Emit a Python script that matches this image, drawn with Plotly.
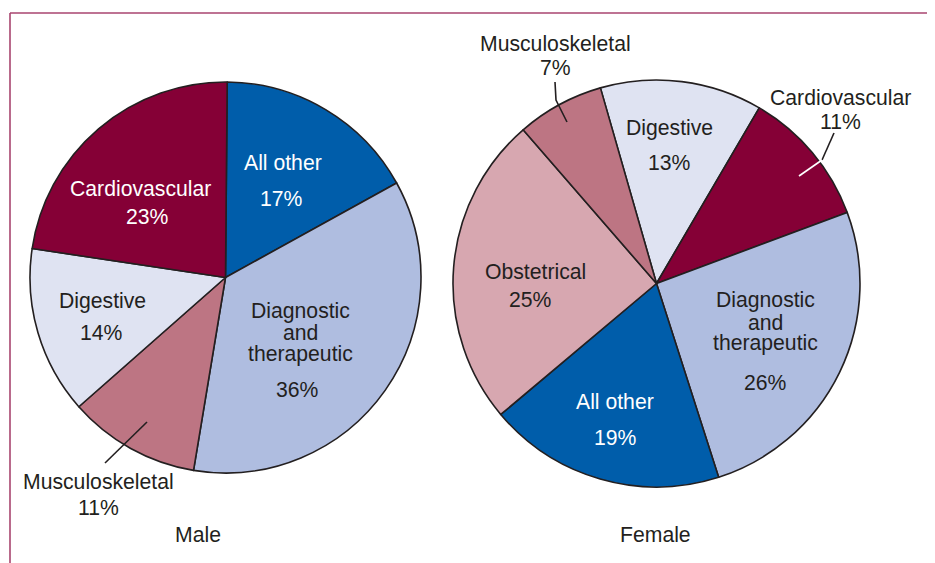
import plotly.graph_objects as go

# page body has an 8px margin, so the figure is drawn offset by 8px
OFF = 8
W, H = 935 - OFF, 563 - OFF

# ---------------- data ----------------
male_labels = ["All other", "Diagnostic and therapeutic", "Musculoskeletal", "Digestive", "Cardiovascular"]
male_values = [17, 36, 11, 14, 23]

female_labels = ["Digestive", "Cardiovascular", "Diagnostic and therapeutic", "All other", "Obstetrical", "Musculoskeletal"]
female_values = [13, 11, 26, 19, 25, 7]

panel_titles = ["Male", "Female"]

colors = {
    "Cardiovascular": "#850036",
    "All other": "#005DAA",
    "Diagnostic and therapeutic": "#AFBDE0",
    "Digestive": "#DFE3F2",
    "Musculoskeletal": "#BD7583",
    "Obstetrical": "#D7A7B0",
}
text_colors = {
    "Cardiovascular": "white",
    "All other": "white",
}
DARK = "#231F20"
FONT = "Liberation Sans, Arial, Helvetica, sans-serif"
FS = 21.2


def px(x):
    return (x - OFF) / W


def py(y):
    return 1 - (y - OFF) / H


def dom(cx, cy, r):
    return dict(x=[px(cx - r), px(cx + r)], y=[py(cy + r), py(cy - r)])


fig = go.Figure()
fig.add_trace(go.Pie(
    labels=male_labels, values=male_values, sort=False, direction="clockwise",
    rotation=0.5, textinfo="none", hoverinfo="label+value",
    marker=dict(colors=[colors[l] for l in male_labels], line=dict(color=DARK, width=1.6)),
    domain=dom(225.5, 277.5, 195.5), showlegend=False,
))
fig.add_trace(go.Pie(
    labels=female_labels, values=female_values, sort=False, direction="clockwise",
    rotation=-16, textinfo="none", hoverinfo="label+value",
    marker=dict(colors=[colors[l] for l in female_labels], line=dict(color=DARK, width=1.6)),
    domain=dom(656.5, 283.5, 203.5), showlegend=False,
))

annotations = []


def add_text(txt, x, y, color=DARK):
    annotations.append(dict(
        text=txt, x=px(x), y=py(y), xref="paper", yref="paper",
        xanchor="center", yanchor="middle", showarrow=False,
        font=dict(family=FONT, size=FS, color=color),
    ))


# label layout (pixel centres) for each category: name lines and percent
male_pos = {
    "All other": ([(283, 162)], (281, 198)),
    "Cardiovascular": ([(140, 188)], (147, 217)),
    "Diagnostic and therapeutic": ([(300, 311), (300, 332), (300, 354)], (297, 389)),
    "Digestive": ([(102, 301)], (101, 332)),
    "Musculoskeletal": ([(98, 481)], (98, 507)),
}
female_pos = {
    "Musculoskeletal": ([(555, 43)], (555, 67)),
    "Digestive": ([(669, 128)], (669, 162)),
    "Cardiovascular": ([(840, 97)], (840, 121)),
    "Obstetrical": ([(535, 271)], (530, 299)),
    "Diagnostic and therapeutic": ([(765, 300), (765, 322), (765, 343)], (765, 382)),
    "All other": ([(615, 401)], (615, 437)),
}
outside = {"Musculoskeletal"}


def label_lines(name):
    if name == "Diagnostic and therapeutic":
        return ["Diagnostic", "and", "therapeutic"]
    return [name]


for labels, values, pos, extra_out in [
    (male_labels, male_values, male_pos, set()),
    (female_labels, female_values, female_pos, {"Cardiovascular"}),
]:
    for name, val in zip(labels, values):
        name_pts, pct_pt = pos[name]
        col = DARK if (name in outside or name in extra_out) else text_colors.get(name, DARK)
        for line, (x, y) in zip(label_lines(name), name_pts):
            add_text(line, x, y, col)
        add_text(f"{val}%", pct_pt[0], pct_pt[1], col)

add_text(panel_titles[0], 198, 534)
add_text(panel_titles[1], 655, 534)


def path(points):
    d = "M " + " L ".join(f"{px(x)} {py(y)}" for x, y in points)
    return d


shapes = [
    # frame (left + top)
    dict(type="line", xref="paper", yref="paper", x0=px(10), y0=py(13), x1=px(10), y1=py(563),
         line=dict(color="#A8456F", width=1.6)),
    dict(type="line", xref="paper", yref="paper", x0=px(10), y0=py(13), x1=px(935), y1=py(13),
         line=dict(color="#A8456F", width=1.6)),
    # leader lines
    dict(type="path", xref="paper", yref="paper", path=path([(105, 463), (147, 422)]),
         line=dict(color=DARK, width=1.6)),
    dict(type="path", xref="paper", yref="paper", path=path([(555, 82), (556, 100), (567, 122)]),
         line=dict(color=DARK, width=1.6)),
    dict(type="path", xref="paper", yref="paper", path=path([(834, 133), (822, 160)]),
         line=dict(color=DARK, width=1.6)),
    dict(type="path", xref="paper", yref="paper", path=path([(822, 160), (799, 176)]),
         line=dict(color="white", width=1.8)),
]

fig.update_layout(
    width=W, height=H, margin=dict(l=0, r=0, t=0, b=0),
    paper_bgcolor="white", plot_bgcolor="white",
    annotations=annotations, shapes=shapes, showlegend=False,
)

fig.write_html("out.html")
